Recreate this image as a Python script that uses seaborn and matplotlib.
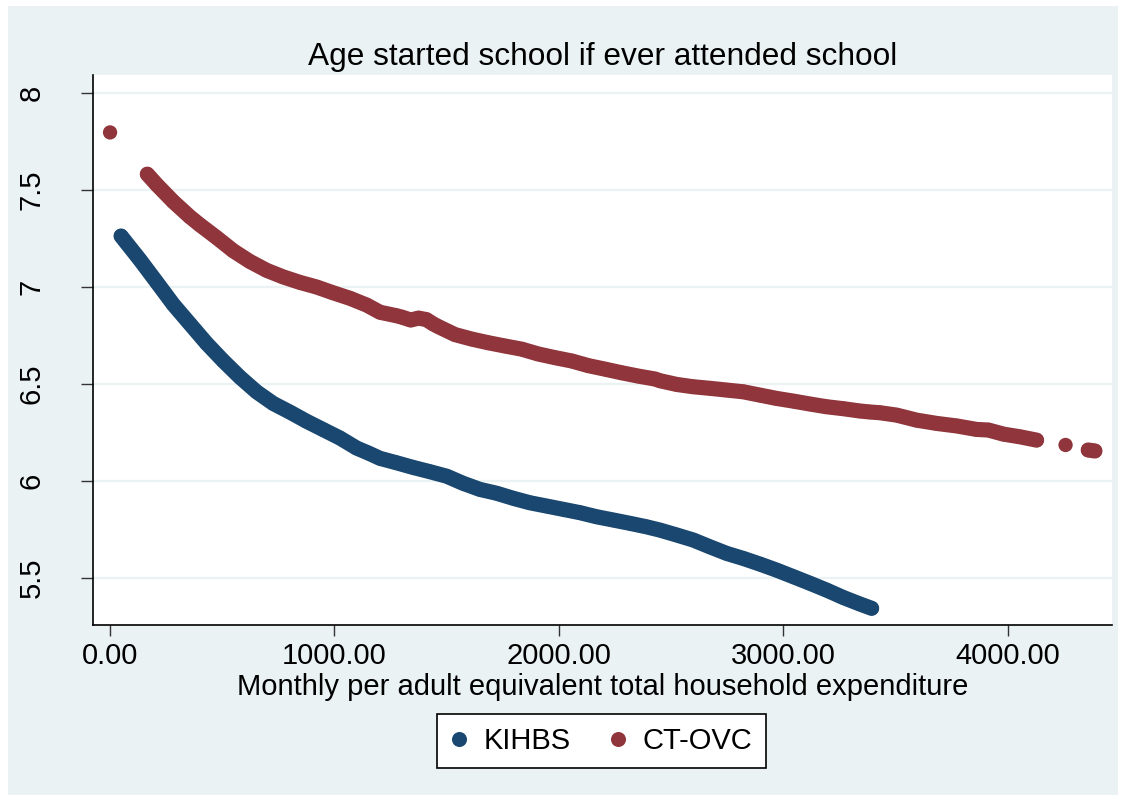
import matplotlib
matplotlib.use("Agg")
import numpy as np
import pandas as pd
import matplotlib.pyplot as plt
import seaborn as sns
from matplotlib.patches import Rectangle

# Smoothed age at school entry by monthly per adult equivalent expenditure
kihbs_x = [49, 134, 208, 282, 356, 430, 504, 579, 653, 727, 802, 876, 950,
           1024, 1099, 1150, 1203, 1277, 1351, 1426, 1500, 1574, 1648, 1723,
           1797, 1871, 1946, 2020, 2094, 2168, 2243, 2317, 2391, 2451, 2525,
           2599, 2673, 2748, 2822, 2896, 2970, 3045, 3119, 3193, 3267, 3342,
           3394]
kihbs_y = [7.263, 7.139, 7.025, 6.910, 6.810, 6.710, 6.620, 6.535, 6.460,
           6.400, 6.355, 6.308, 6.265, 6.222, 6.170, 6.145, 6.117, 6.094,
           6.070, 6.048, 6.025, 5.988, 5.957, 5.937, 5.911, 5.888, 5.871,
           5.854, 5.837, 5.816, 5.799, 5.782, 5.764, 5.747, 5.722, 5.696,
           5.661, 5.627, 5.601, 5.572, 5.541, 5.507, 5.473, 5.438, 5.400,
           5.366, 5.344]

ctovc_x = [0, 166, 208, 282, 356, 401, 475, 549, 623, 698, 772, 846, 921,
           995, 1069, 1144, 1203, 1277, 1300, 1340, 1375, 1410, 1440, 1463,
           1537, 1611, 1685, 1760, 1834, 1908, 1983, 2057, 2131, 2205, 2280,
           2354, 2428, 2451, 2525, 2599, 2673, 2748, 2822, 2896, 2970, 3045,
           3119, 3193, 3267, 3342, 3386, 3431, 3505, 3594, 3684, 3773, 3862,
           3914, 3981, 4055, 4129, 4258, 4359, 4389]
ctovc_y = [7.797, 7.582, 7.528, 7.440, 7.362, 7.320, 7.255, 7.187, 7.132,
           7.086, 7.052, 7.024, 7.000, 6.970, 6.942, 6.907, 6.870, 6.852,
           6.845, 6.830, 6.840, 6.832, 6.810, 6.796, 6.755, 6.732, 6.713,
           6.696, 6.680, 6.655, 6.636, 6.619, 6.595, 6.577, 6.558, 6.541,
           6.526, 6.517, 6.498, 6.486, 6.478, 6.469, 6.460, 6.443, 6.426,
           6.412, 6.397, 6.383, 6.373, 6.361, 6.356, 6.352, 6.340, 6.314,
           6.297, 6.284, 6.266, 6.263, 6.242, 6.228, 6.211, 6.186, 6.160,
           6.155]

series_names = ["KIHBS", "CT-OVC"]
series_colors = ["#1a476f", "#90353b"]

x_ticks = [0, 1000, 2000, 3000, 4000]
x_tick_labels = ["0.00", "1000.00", "2000.00", "3000.00", "4000.00"]
y_ticks = [5.5, 6, 6.5, 7, 7.5, 8]
y_tick_labels = ["5.5", "6", "6.5", "7", "7.5", "8"]

title_text = "Age started school if ever attended school"
x_label_text = "Monthly per adult equivalent total household expenditure"

# ---- styling ----
sns.set_theme(style="white")
plt.rcParams["font.family"] = ["Liberation Sans", "DejaVu Sans"]
plt.rcParams["text.color"] = "black"
BG = "#eaf2f3"
FS = 21
FS_TITLE = 22.8
W, H = 1126, 801

frames = []
for name, xs, ys in [("KIHBS", kihbs_x, kihbs_y), ("CT-OVC", ctovc_x, ctovc_y)]:
    d = pd.DataFrame({"x": xs, "y": ys, "series": name})
    d = d.sort_values("x").reset_index(drop=True)
    # consecutive observations closer than 100 form one continuous band
    seg = (d["x"].diff().fillna(0) > 100).cumsum()
    d["segment"] = name + "-" + seg.astype(str)
    frames.append(d)
df = pd.concat(frames, ignore_index=True)

fig = plt.figure(figsize=(W / 100, H / 100), dpi=100)
fig.patch.set_facecolor("white")
fig.patches.append(Rectangle((8 / W, 1 - 795 / H), (1118 - 8) / W, (795 - 6) / H,
                             transform=fig.transFigure, facecolor=BG,
                             edgecolor="none", zorder=-10))

ax = fig.add_axes([93 / W, 1 - 625 / H, (1112 - 93) / W, (625 - 75) / H])
ax.set_facecolor("white")

palette = dict(zip(series_names, series_colors))
marker_pt = 10.3
band_pt = 10.9

sns.lineplot(data=df, x="x", y="y", hue="series", units="segment",
             estimator=None, sort=False, palette=palette, hue_order=series_names,
             lw=band_pt, solid_capstyle="round", legend=False, ax=ax, zorder=3)
sns.scatterplot(data=df, x="x", y="y", hue="series", palette=palette,
                hue_order=series_names, s=marker_pt ** 2, linewidth=0,
                ax=ax, zorder=4)

ax.set_xlim(-76, 4465)
ax.set_ylim(5.258, 8.093)
ax.set_xticks(x_ticks)
ax.set_xticklabels(x_tick_labels)
ax.set_yticks(y_ticks)
ax.set_yticklabels(y_tick_labels, rotation=90, va="center")

ax.yaxis.grid(True, color=BG, lw=1.6)
ax.xaxis.grid(False)
ax.set_axisbelow(True)

for side in ["top", "right"]:
    ax.spines[side].set_visible(False)
for side in ["left", "bottom"]:
    ax.spines[side].set_color("black")
    ax.spines[side].set_linewidth(1.2)

ax.tick_params(axis="x", direction="out", length=8, width=1.0, color="#333333",
               labelsize=FS, labelcolor="black", pad=4.5, bottom=True)
ax.tick_params(axis="y", direction="out", length=8.5, width=1.0, color="#333333",
               labelsize=FS, labelcolor="black", pad=25.5, left=True)

ax.set_title(title_text, fontsize=FS_TITLE, color="black", y=(625 - 65) / 550,
             pad=0, va="baseline")
ax.set_xlabel(x_label_text, fontsize=FS, color="black", va="baseline")
ax.xaxis.set_label_coords(0.5, -70 / 550)
ax.set_ylabel("")

handles, labels = ax.get_legend_handles_labels()
if ax.get_legend() is not None:
    ax.get_legend().remove()
leg = fig.legend(handles, labels, loc="center",
                 bbox_to_anchor=(601.5 / W, 1 - 741 / H),
                 bbox_transform=fig.transFigure, ncol=2, frameon=True,
                 fancybox=False, framealpha=1, fontsize=FS, handlelength=0.6,
                 handletextpad=0.55, columnspacing=1.3, borderpad=0.45,
                 borderaxespad=0)
leg.get_frame().set_edgecolor("black")
leg.get_frame().set_linewidth(1.2)
leg.get_frame().set_facecolor("white")
for h in leg.legend_handles:
    h.set_markersize(marker_pt * 1.05)
for t in leg.get_texts():
    t.set_color("black")

fig.savefig("out.png", dpi=100, facecolor=fig.get_facecolor())
